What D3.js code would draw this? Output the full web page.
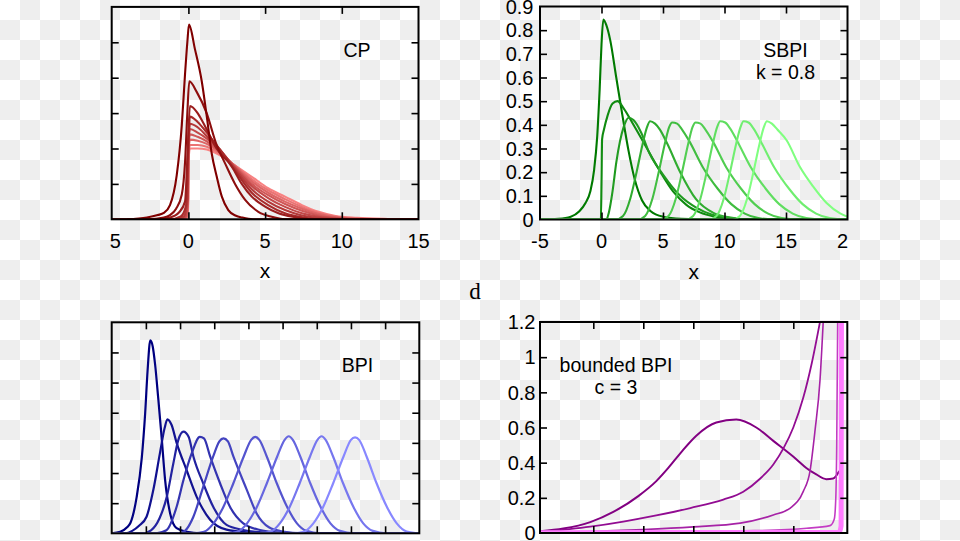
<!DOCTYPE html>
<html>
<head>
<meta charset="utf-8">
<script src="https://cdn.jsdelivr.net/npm/d3@7"></script>
<style>
	html, body { margin: 0; padding: 0; background: #fff; }
	svg { display: block; font-family: "Liberation Sans", Arial, Helvetica, sans-serif; }
</style>
</head>
<body>
<svg id="view" width="960" height="541"></svg>
<script>

// ---- CP panel (red), darkest first ----
var cpCurves = [
	[[-4,0],[-2.7,0.005],[-2,0.012],[-1.6,0.018],[-1.2,0.04],[-0.76,0.125],[-0.43,0.266],[-0.22,0.41],[-0.07,0.5],[0.04,0.55],[0.43,0.48],[0.87,0.39],[1.2,0.29],[1.52,0.186],[1.85,0.12],[2.18,0.064],[2.6,0.026],[3.1,0.01],[3.5,0.005],[4.2,0],[15,0]],
	[[-5,0],[-2.6,0],[-1.6,0.005],[-1.2,0.012],[-0.8,0.03],[-0.43,0.07],[-0.22,0.16],[-0.07,0.3],[0.06,0.39],[0.54,0.36],[1.19,0.3],[1.84,0.21],[2.39,0.158],[3.04,0.1],[3.7,0.055],[4.56,0.021],[5.43,0.007],[6.3,0],[15,0]],
	[[-5,0],[-2,0],[-1.2,0.005],[-0.6,0.02],[-0.22,0.05],[-0.07,0.17],[0.1,0.32],[0.6,0.3],[1,0.27],[1.84,0.2],[2.83,0.149],[3.48,0.1],[4.13,0.064],[5,0.036],[5.87,0.017],[6.96,0.006],[8,0],[15,0]],
	[[-5,0],[-1.2,0],[-0.5,0.008],[-0.15,0.04],[-0.03,0.18],[0.1,0.29],[0.6,0.275],[1.2,0.245],[2,0.2],[3,0.14],[4.13,0.075],[5.2,0.04],[6.3,0.017],[7.4,0.006],[8.5,0],[15,0]],
	[[-5,0],[-0.8,0],[-0.3,0.008],[-0.06,0.06],[0,0.2],[0.1,0.27],[0.6,0.26],[1.2,0.235],[2,0.2],[3,0.145],[4.13,0.085],[5.2,0.05],[6.3,0.026],[7.4,0.011],[8.5,0.004],[10,0],[15,0]],
	[[-5,0],[-0.6,0],[-0.2,0.008],[-0.04,0.06],[0,0.2],[0.1,0.255],[0.6,0.245],[1.2,0.228],[2,0.197],[3,0.148],[4.13,0.094],[5.2,0.06],[6.3,0.035],[7.4,0.017],[8.5,0.007],[10,0.002],[11,0],[15,0]],
	[[-5,0],[-0.5,0],[-0.15,0.008],[-0.03,0.06],[0,0.19],[0.1,0.24],[0.6,0.233],[1.2,0.22],[2,0.193],[3,0.15],[4.13,0.1],[5.2,0.068],[6.3,0.043],[7.4,0.024],[8.5,0.011],[9.6,0.004],[11.5,0],[15,0]],
	[[-5,0],[-0.4,0],[-0.1,0.008],[-0.02,0.06],[0,0.18],[0.1,0.225],[0.6,0.222],[1.2,0.213],[2,0.19],[3,0.152],[4.13,0.107],[5.2,0.075],[6.3,0.05],[7.4,0.03],[8.5,0.015],[9.6,0.006],[11,0.002],[12,0],[15,0]],
	[[-5,0],[-0.3,0],[-0.08,0.008],[-0.01,0.06],[0,0.17],[0.1,0.21],[0.6,0.21],[1.2,0.205],[2,0.186],[3,0.153],[4.13,0.113],[5.2,0.082],[6.3,0.057],[7.4,0.035],[8.5,0.018],[9.6,0.008],[11,0.003],[12.5,0],[15,0]],
	[[-5,0],[-0.2,0],[-0.05,0.008],[-0.01,0.05],[0,0.16],[0.1,0.2],[0.6,0.2],[1.2,0.197],[2,0.182],[3,0.153],[4.13,0.12],[5.2,0.088],[6.3,0.064],[7.4,0.04],[8.5,0.021],[9.6,0.009],[11,0.004],[13,0.001],[15,0]]
];

// ---- SBPI panel (green), k = 0.8 ----
var sbpiCurves = [
	[[-5,0],[-3.5,0.003],[-2.5,0.012],[-1.8,0.035],[-1.3,0.07],[-0.9,0.12],[-0.6,0.21],[-0.35,0.35],[-0.15,0.55],[0,0.74],[0.15,0.845],[0.4,0.82],[0.7,0.76],[1.2,0.6],[1.7,0.44],[2.2,0.29],[2.7,0.17],[3.3,0.08],[4,0.035],[5,0.012],[6.5,0.003],[9,0],[20,0]],
	[[-5,0],[-0.05,0.002],[0,0.15],[0.05,0.34],[0.2,0.38],[0.5,0.44],[0.9,0.49],[1.3,0.5],[1.8,0.47],[2.6,0.4],[3.7,0.3],[4.8,0.2],[5.8,0.12],[6.9,0.062],[8,0.03],[9.2,0.012],[10.5,0.004],[12,0],[20,0]],
	[[-5,0],[0.4,0],[0.6,0.03],[0.9,0.12],[1.2,0.24],[1.5,0.33],[1.8,0.39],[2.2,0.43],[2.6,0.42],[3.2,0.37],[3.9,0.28],[5,0.19],[6.4,0.1],[7.7,0.05],[9,0.02],[10.5,0.006],[12,0],[20,0]],
	[[-5,0],[1.15,0],[1.75,0.015],[2.35,0.09],[2.85,0.2],[3.35,0.32],[3.7,0.39],[3.95,0.415],[4.35,0.405],[4.75,0.38],[5.35,0.32],[6.4,0.2],[7.7,0.085],[9.1,0.028],[10.5,0.008],[12,0],[20,0]],
	[[-5,0],[2.95,0],[3.55,0.015],[4.15,0.09],[4.65,0.2],[5.15,0.32],[5.5,0.39],[5.75,0.41],[6.15,0.405],[6.55,0.38],[7.15,0.33],[8.25,0.22],[9.45,0.13],[10.55,0.065],[11.65,0.025],[12.75,0.006],[14,0],[20,0]],
	[[-5,0],[4.85,0],[5.45,0.015],[6.05,0.09],[6.55,0.2],[7.05,0.32],[7.4,0.39],[7.65,0.41],[8.05,0.405],[8.45,0.38],[9.05,0.33],[10.15,0.22],[11.35,0.13],[12.45,0.065],[13.55,0.025],[14.65,0.006],[16,0],[20,0]],
	[[-5,0],[6.85,0],[7.45,0.015],[8.05,0.09],[8.55,0.2],[9.05,0.32],[9.4,0.39],[9.65,0.415],[10.05,0.41],[10.45,0.385],[11.05,0.33],[12.15,0.22],[13.35,0.13],[14.45,0.065],[15.55,0.025],[16.65,0.006],[18,0],[20,0]],
	[[-5,0],[8.75,0],[9.35,0.015],[9.95,0.09],[10.45,0.2],[10.95,0.32],[11.3,0.39],[11.55,0.415],[11.95,0.41],[12.35,0.385],[12.95,0.33],[14.05,0.22],[15.25,0.13],[16.35,0.065],[17.45,0.025],[18.55,0.006],[19.8,0],[20,0]],
	[[-5,0],[10.65,0],[11.25,0.015],[11.85,0.09],[12.35,0.2],[12.85,0.32],[13.2,0.39],[13.45,0.415],[13.85,0.405],[14.3,0.38],[15.05,0.335],[16.1,0.225],[17.2,0.14],[18.3,0.07],[19.4,0.026],[20,0.012]]
];

// ---- BPI panel (blue) ----
var bpiCurves = [
	[[0,0],[0.25,0.005],[0.45,0.02],[0.55,0.035],[0.73,0.12],[0.88,0.25],[0.98,0.4],[1.05,0.54],[1.13,0.64],[1.2,0.62],[1.27,0.56],[1.36,0.45],[1.46,0.32],[1.56,0.18],[1.71,0.066],[1.9,0.017],[2.2,0.005],[2.6,0],[9,0]],
	[[0,0],[0.4,0],[0.6,0.008],[0.8,0.025],[1.02,0.055],[1.22,0.145],[1.41,0.265],[1.55,0.35],[1.63,0.378],[1.75,0.36],[1.9,0.3],[2.19,0.21],[2.49,0.12],[2.88,0.045],[3.36,0.012],[4,0.003],[4.6,0],[9,0]],
	[[0,0],[0.9,0],[1.15,0.01],[1.4,0.05],[1.61,0.12],[1.8,0.23],[1.95,0.31],[2.1,0.337],[2.25,0.32],[2.39,0.255],[2.68,0.165],[2.97,0.088],[3.36,0.028],[3.85,0.011],[4.5,0.002],[5,0],[9,0]],
	[[0,0],[1.3,0],[1.6,0.01],[1.9,0.088],[2.1,0.177],[2.34,0.265],[2.58,0.32],[2.7,0.315],[2.88,0.255],[3.17,0.166],[3.46,0.088],[3.85,0.033],[4.34,0.011],[5,0.002],[5.5,0],[9,0]],
	[[0,0],[2,0],[2.2,0.015],[2.39,0.055],[2.68,0.155],[2.97,0.255],[3.15,0.305],[3.27,0.315],[3.4,0.305],[3.56,0.255],[3.95,0.145],[4.24,0.066],[4.6,0.02],[5,0.006],[5.6,0],[9,0]],
	[[0,0],[2.4,0],[2.7,0.005],[2.98,0.033],[3.27,0.088],[3.56,0.166],[3.86,0.254],[4.08,0.31],[4.2,0.32],[4.32,0.31],[4.54,0.254],[4.83,0.166],[5.13,0.088],[5.42,0.033],[5.7,0.008],[6.1,0],[9,0]],
	[[0,0],[3.38,0],[3.68,0.005],[3.96,0.033],[4.25,0.088],[4.54,0.166],[4.84,0.254],[5.06,0.31],[5.18,0.322],[5.3,0.31],[5.52,0.254],[5.81,0.166],[6.11,0.088],[6.4,0.033],[6.68,0.008],[7.08,0],[9,0]],
	[[0,0],[4.34,0],[4.64,0.005],[4.92,0.033],[5.21,0.088],[5.5,0.166],[5.8,0.254],[6.02,0.31],[6.14,0.322],[6.26,0.31],[6.48,0.254],[6.77,0.166],[7.07,0.088],[7.36,0.033],[7.64,0.008],[8.04,0],[9,0]],
	[[0,0],[5.32,0],[5.62,0.005],[5.9,0.033],[6.19,0.088],[6.48,0.166],[6.78,0.254],[7,0.31],[7.12,0.318],[7.24,0.31],[7.46,0.254],[7.75,0.166],[8.05,0.088],[8.34,0.033],[8.63,0.006],[9,0]]
];

// ---- bounded BPI panel (purple), c = 3 ----
var boundedCurves = [
	[[-0.03,0.01],[0.2,0.025],[0.47,0.062],[0.7,0.12],[0.95,0.21],[1.13,0.295],[1.25,0.37],[1.38,0.46],[1.53,0.553],[1.73,0.628],[1.93,0.645],[2.13,0.6],[2.3,0.524],[2.53,0.42],[2.63,0.37],[2.73,0.333],[2.83,0.306],[2.9,0.31],[2.96,0.352]],
	[[-0.03,0.005],[0.47,0.036],[0.8,0.065],[1.13,0.1],[1.47,0.142],[1.8,0.19],[2.0,0.235],[2.17,0.31],[2.3,0.39],[2.4,0.48],[2.5,0.6],[2.6,0.77],[2.684,0.964],[2.77,1.21]],
	[[-0.03,0.002],[0.5,0.01],[1,0.02],[1.5,0.035],[1.97,0.056],[2.3,0.103],[2.47,0.142],[2.6,0.237],[2.667,0.352],[2.717,0.582],[2.767,0.869],[2.8,1.21]],
	[[-0.03,0.001],[1,0.006],[2,0.012],[2.634,0.027],[2.867,0.042],[2.91,0.08],[2.925,0.2],[2.934,0.486],[2.944,1.21]],
	[[-0.03,0.002],[2.96,0.004],[2.978,0.04],[2.982,1.3]]
];

// tick values and labels
var cpXTicks = [0, 5, 10];
var cpXLabelVals = [-5, 0, 5, 10, 15];
var cpXLabels = ['5', '0', '5', '10', '15'];
var cpYTicks = [0.1, 0.2, 0.3, 0.4, 0.5];

var sbpiXTicks = [0, 5, 10, 15];
var sbpiXLabelVals = [-5, 0, 5, 10, 15, 20];
var sbpiXLabels = ['-5', '0', '5', '10', '15', '2'];
var sbpiYTicks = [0.1, 0.2, 0.3, 0.4, 0.5, 0.6, 0.7, 0.8];
var sbpiYLabelVals = [0, 0.1, 0.2, 0.3, 0.4, 0.5, 0.6, 0.7, 0.8, 0.9];
var sbpiYLabels = ['0', '0.1', '0.2', '0.3', '0.4', '0.5', '0.6', '0.7', '0.8', '0.9'];

var bpiXTicks = [1, 2, 3, 4, 5, 6, 7, 8];
var bpiYTicks = [0.1, 0.2, 0.3, 0.4, 0.5, 0.6];

var boundedXTicks = [0.5, 1, 1.5, 2, 2.5];
var boundedYTicks = [0.2, 0.4, 0.6, 0.8, 1.0];
var boundedYLabelVals = [0, 0.2, 0.4, 0.6, 0.8, 1.0, 1.2];
var boundedYLabels = ['0', '0.2', '0.4', '0.6', '0.8', '1', '1.2'];

var boundedColors = ['#820082', '#920c92', '#a622a6', '#c43cc4', '#ff7cff'];

var svg = d3.select('svg#view');
var defs = svg.append('defs');

// transparent-png checkerboard
var pat = defs.append('pattern').attr('id', 'checker')
	.attr('width', 40).attr('height', 40).attr('patternUnits', 'userSpaceOnUse');
pat.append('rect').attr('width', 40).attr('height', 40).attr('fill', '#ffffff');
pat.append('rect').attr('x', 20).attr('y', 0).attr('width', 20).attr('height', 20).attr('fill', '#eeeeee');
pat.append('rect').attr('x', 0).attr('y', 20).attr('width', 20).attr('height', 20).attr('fill', '#eeeeee');
svg.append('rect').attr('width', 960).attr('height', 541).attr('fill', 'url(#checker)');

// notes: one text per block, extra lines as tspans
var panels = [
	{ id: 'cp', left: 111.7, right: 418.5, top: 6.9, bottom: 219.3,
	  xDomain: [-5, 15], yDomain: [0, 0.6], series: cpCurves, reverse: true,
	  colors: ['#800000', '#f88282'], width: 2.1,
	  xTicks: cpXTicks, yTicks: cpYTicks,
	  xLabelVals: cpXLabelVals, xLabels: cpXLabels, xLabelDx: [3.5, 0, 0, 0, 0],
	  xTitle: 'x', note: { lines: ['CP'], x: 357, y: 57 } },
	{ id: 'sbpi', left: 540, right: 847.5, top: 6.5, bottom: 219.5,
	  xDomain: [-5, 20], yDomain: [0, 0.9], series: sbpiCurves,
	  colors: ['#007a00', '#80ff80'], width: 2.1,
	  xTicks: sbpiXTicks, yTicks: sbpiYTicks,
	  xLabelVals: sbpiXLabelVals, xLabels: sbpiXLabels, xLabelDx: [0, 0, 0, 0, 0, -5],
	  yLabelVals: sbpiYLabelVals, yLabels: sbpiYLabels, yPad: 6.5,
	  xTitle: 'x', note: { lines: ['SBPI', 'k = 0.8'], x: 785.5, y: 56.5 } },
	{ id: 'bpi', left: 111.7, right: 419.3, top: 322.3, bottom: 533.3,
	  xDomain: [0, 9], yDomain: [0, 0.7], series: bpiCurves,
	  colors: ['#000080', '#8888ff'], width: 2.2,
	  xTicks: bpiXTicks, yTicks: bpiYTicks,
	  note: { lines: ['BPI'], x: 357.5, y: 372 } },
	{ id: 'bounded', left: 540, right: 847.3, top: 322, bottom: 533,
	  xDomain: [-0.033, 3.04], yDomain: [0, 1.2], series: boundedCurves,
	  seriesColors: boundedColors, widths: [2, 1.8, 1.6, 1.6, 5],
	  xTicks: boundedXTicks, yTicks: boundedYTicks,
	  yLabelVals: boundedYLabelVals, yLabels: boundedYLabels, yPad: 4.5,
	  note: { lines: ['bounded BPI', 'c = 3'], x: 616, y: 371.5 } }
];

var TICK = 7;

panels.forEach(function(p) {
	var x = d3.scaleLinear().domain(p.xDomain).range([p.left, p.right]);
	var y = d3.scaleLinear().domain(p.yDomain).range([p.bottom, p.top]);
	var g = svg.append('g');

	defs.append('clipPath').attr('id', 'clip-' + p.id).append('rect')
		.attr('x', p.left).attr('y', p.top)
		.attr('width', p.right - p.left).attr('height', p.bottom - p.top);

	var line = d3.line()
		.x(function(d) { return x(d[0]); })
		.y(function(d) { return y(d[1]); })
		.curve(d3.curveMonotoneX);

	var n = p.series.length;
	var col = p.colors ? d3.interpolateRgb(p.colors[0], p.colors[1]) : null;
	var items = p.series.map(function(s, i) {
		return { pts: s, color: p.seriesColors ? p.seriesColors[i] : col(i / (n - 1)),
			w: p.widths ? p.widths[i] : p.width };
	});
	if (p.reverse) items.reverse();

	g.append('g').attr('clip-path', 'url(#clip-' + p.id + ')')
		.selectAll('path').data(items).enter().append('path')
		.attr('d', function(d) { return line(d.pts); })
		.attr('fill', 'none')
		.attr('stroke', function(d) { return d.color; })
		.attr('stroke-width', function(d) { return d.w; })
		.attr('stroke-linejoin', 'round');

	// inward ticks on all four sides
	var axes = [
		{ a: d3.axisTop(x).tickValues(p.xTicks), tr: 'translate(0,' + p.top + ')' },
		{ a: d3.axisBottom(x).tickValues(p.xTicks), tr: 'translate(0,' + p.bottom + ')' },
		{ a: d3.axisLeft(y).tickValues(p.yTicks), tr: 'translate(' + p.left + ',0)' },
		{ a: d3.axisRight(y).tickValues(p.yTicks), tr: 'translate(' + p.right + ',0)' }
	];
	axes.forEach(function(ax) {
		var ag = g.append('g').attr('transform', ax.tr)
			.call(ax.a.tickSize(-TICK).tickFormat(''));
		ag.select('.domain').remove();
		ag.selectAll('line').attr('stroke', '#000').attr('stroke-width', 1.6);
	});

	// frame
	g.append('rect')
		.attr('x', p.left).attr('y', p.top)
		.attr('width', p.right - p.left).attr('height', p.bottom - p.top)
		.attr('fill', 'none').attr('stroke', '#000').attr('stroke-width', 2);

	// tick labels
	if (p.xLabels) {
		g.selectAll('text.xl').data(p.xLabelVals).enter().append('text')
			.attr('class', 'xl')
			.attr('x', function(d) { return x(d); })
			.attr('dx', function(d, i) { return p.xLabelDx[i]; })
			.attr('y', p.bottom + 28.5)
			.attr('text-anchor', 'middle')
			.attr('font-size', 20)
			.text(function(d, i) { return p.xLabels[i]; });
	}
	if (p.yLabels) {
		g.selectAll('text.yl').data(p.yLabelVals).enter().append('text')
			.attr('class', 'yl')
			.attr('x', p.left - p.yPad)
			.attr('y', function(d) { return y(d); })
			.attr('dy', '0.36em')
			.attr('text-anchor', 'end')
			.attr('font-size', 20)
			.text(function(d, i) { return p.yLabels[i]; });
	}
	if (p.xTitle) {
		g.append('text')
			.attr('x', (p.left + p.right) / 2)
			.attr('y', p.bottom + 59)
			.attr('text-anchor', 'middle')
			.attr('font-size', 21)
			.text(p.xTitle);
	}
	var note = g.append('text')
		.attr('x', p.note.x).attr('y', p.note.y)
		.attr('text-anchor', 'middle')
		.attr('font-size', 19.5);
	note.selectAll('tspan').data(p.note.lines).enter().append('tspan')
		.attr('x', p.note.x)
		.attr('dy', function(d, i) { return i ? 22 : 0; })
		.text(function(d) { return d; });
});

// panel letter between the rows
svg.append('text')
	.attr('x', 475).attr('y', 299)
	.attr('text-anchor', 'middle')
	.attr('font-family', '"Liberation Serif", "Times New Roman", serif')
	.attr('font-size', 23)
	.text('d');

</script>
</body>
</html>
